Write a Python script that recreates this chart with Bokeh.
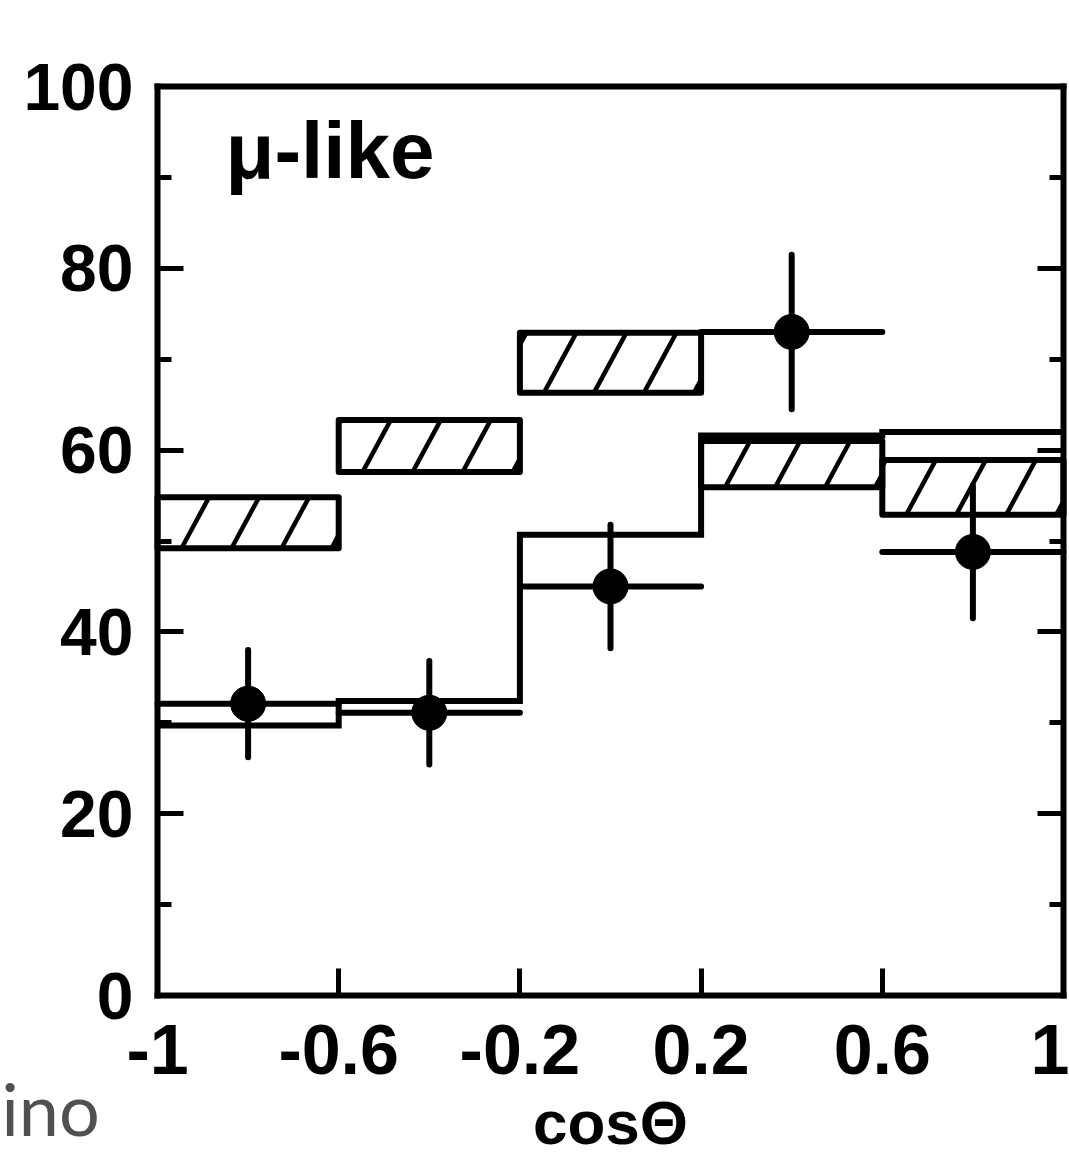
from bokeh.plotting import figure
from bokeh.models import (FixedTicker, LinearAxis, Label, ColumnDataSource, Range1d,
                          CustomJSTickFormatter)
from bokeh.embed import file_html
from bokeh.resources import INLINE

# ---------------- data ----------------
bin_edges = [-1.0, -0.6, -0.2, 0.2, 0.6, 1.0]
data_counts = [32.1, 31.1, 45.0, 73.0, 48.8]
data_errors = [5.9, 5.7, 6.8, 8.5, 7.3]
mc_low = [49.2, 57.6, 66.3, 55.9, 52.9]     # no-oscillation MC band (hatched)
mc_high = [54.8, 63.3, 72.9, 61.0, 58.9]
osc_fit = [29.7, 32.4, 50.7, 61.6, 62.0]    # best-fit oscillation (bold line)
x_ticks = [-1.0, -0.6, -0.2, 0.2, 0.6, 1.0]
x_tick_labels = ["-1", "-0.6", "-0.2", "0.2", "0.6", "1"]
y_ticks = [0, 20, 40, 60, 80, 100]
y_minor_ticks = [10, 30, 50, 70, 90]
y_tick_labels = ["0", "20", "40", "60", "80", "100"]
panel_label = "μ-like"
x_label = "cosΘ"
corner_text = "ino"

X_MIN, X_MAX = -1.0, 1.0
Y_MIN, Y_MAX = 0.0, 100.0

# ---------------- layout (pixels) ----------------
W, H = 1069, 1159
FL, FR, FT, FB = 157, 1063, 86, 995       # plot box edges on the canvas
kx = (FR - FL) / (X_MAX - X_MIN)          # px per x unit
ky = (FB - FT) / (Y_MAX - Y_MIN)          # px per y unit
x_start = X_MIN - FL / kx
x_end = X_MAX + (W - FR) / kx
y_start = Y_MIN - (H - FB) / ky
y_end = Y_MAX + FT / ky


def px2x(px):
    return x_start + px / kx


def py2y(py):
    return y_end - py / ky


p = figure(width=W, height=H, x_range=Range1d(x_start, x_end), y_range=Range1d(y_start, y_end),
           output_backend="svg", toolbar_location=None,
           min_border_left=0, min_border_right=0, min_border_top=0, min_border_bottom=0)
p.xgrid.visible = False
p.ygrid.visible = False
p.outline_line_color = None
p.background_fill_color = "white"
p.border_fill_color = "white"

FONT = "Liberation Sans"

# bottom axis
xa = p.xaxis[0]
xa.fixed_location = Y_MIN
xa.bounds = (X_MIN, X_MAX)
xa.ticker = FixedTicker(ticks=x_ticks, minor_ticks=[])
xa.major_label_overrides = {t: l for t, l in zip(x_ticks, x_tick_labels)}
xa.axis_line_width = 6
xa.axis_line_cap = "square"
xa.major_tick_line_width = 5
xa.major_tick_in = 27
xa.major_tick_out = 0
xa.minor_tick_in = 0
xa.minor_tick_out = 0
xa.major_label_standoff = 29
xa.major_label_text_font = FONT
xa.major_label_text_font_style = "bold"
xa.major_label_text_font_size = "70px"
xa.major_label_text_color = "black"
xa.axis_label = x_label
xa.axis_label_text_font = FONT
xa.axis_label_text_font_style = "bold"
xa.axis_label_text_font_size = "62px"
xa.axis_label_text_color = "black"
xa.axis_label_standoff = 11

# left axis
ya = p.yaxis[0]
ya.fixed_location = X_MIN
ya.bounds = (Y_MIN, Y_MAX)
ya.ticker = FixedTicker(ticks=y_ticks, minor_ticks=y_minor_ticks)
ya.major_label_overrides = {t: l for t, l in zip(y_ticks, y_tick_labels)}
ya.axis_line_width = 6
ya.axis_line_cap = "square"
ya.major_tick_line_width = 5
ya.minor_tick_line_width = 5
ya.major_tick_in = 26
ya.major_tick_out = 0
ya.minor_tick_in = 14
ya.minor_tick_out = 0
ya.major_label_standoff = 24
ya.major_label_text_font = FONT
ya.major_label_text_font_style = "bold"
ya.major_label_text_font_size = "66px"
ya.major_label_text_color = "black"

blank = CustomJSTickFormatter(code="return ''")

# right axis (ticks only)
ra = LinearAxis(fixed_location=X_MAX, bounds=(Y_MIN, Y_MAX),
                ticker=FixedTicker(ticks=y_ticks, minor_ticks=y_minor_ticks),
                formatter=blank, axis_line_width=6, axis_line_cap="square",
                major_tick_line_width=5, minor_tick_line_width=5,
                major_tick_in=26, major_tick_out=0, minor_tick_in=14, minor_tick_out=0,
                major_label_standoff=0)
p.add_layout(ra, "right")

# top axis (line only)
ta = LinearAxis(fixed_location=Y_MAX, bounds=(X_MIN, X_MAX),
                ticker=FixedTicker(ticks=[], minor_ticks=[]),
                formatter=blank, axis_line_width=6, axis_line_cap="square",
                major_tick_in=0, major_tick_out=0, minor_tick_in=0, minor_tick_out=0,
                major_label_standoff=0)
p.add_layout(ta, "above")

# ---------------- hatched MC boxes ----------------
lefts = bin_edges[:-1]
rights = bin_edges[1:]
p.quad(left=lefts, right=rights, bottom=mc_low, top=mc_high,
       fill_color=None, line_color="black", line_width=6, line_join="round")

hatch_spacing_px = 50.0
hatch_run = 0.54      # horizontal px per vertical px
hatch_offset_px = 24.0
hx0, hy0, hx1, hy1 = [], [], [], []
for l, r, b, t in zip(lefts, rights, mc_low, mc_high):
    d = (t - b) * ky * hatch_run / kx     # x shift over the box height (data units)
    sp = hatch_spacing_px / kx
    xb = l + hatch_offset_px / kx - 3 * sp
    while xb < r:
        xs, xe = xb, xb + d
        if xe > l:
            ys, ye = b, t
            if xs < l:
                ys = b + (l - xb) / d * (t - b)
                xs = l
            if xe > r:
                ye = b + (r - xb) / d * (t - b)
                xe = r
            hx0.append(xs); hy0.append(ys); hx1.append(xe); hy1.append(ye)
        xb += sp
p.segment(x0=hx0, y0=hy0, x1=hx1, y1=hy1, line_color="black", line_width=4.5)

# ---------------- oscillation best-fit step line ----------------
p.step(x=bin_edges, y=osc_fit + [osc_fit[-1]], mode="after",
       line_color="black", line_width=6, line_join="miter")

# ---------------- data points ----------------
centers = [(a + b) / 2 for a, b in zip(lefts, rights)]
src = ColumnDataSource(dict(x=centers, y=data_counts, left=lefts, right=rights,
                            lo=[v - e for v, e in zip(data_counts, data_errors)],
                            hi=[v + e for v, e in zip(data_counts, data_errors)]))
p.segment(x0="x", y0="lo", x1="x", y1="hi", source=src, line_color="black",
          line_width=6, line_cap="round")
p.segment(x0="left", y0="y", x1="right", y1="y", source=src, line_color="black",
          line_width=6, line_cap="round")
p.scatter(x="x", y="y", source=src, marker="circle", size=35,
          fill_color="black", line_color="black")

# ---------------- texts ----------------
p.add_layout(Label(x=px2x(225), y=py2y(150), text=panel_label,
                   text_font=FONT, text_font_style="bold", text_font_size="80px",
                   text_color="black", text_baseline="middle", text_align="left"))
# fragment of slide text at the lower-left corner
p.add_layout(Label(x=px2x(1), y=py2y(1107), text=corner_text,
                   text_font="Lato", text_font_size="72px", text_color="#505050",
                   text_baseline="middle", text_align="left"))

open("out.html", "w").write(file_html(p, INLINE))
